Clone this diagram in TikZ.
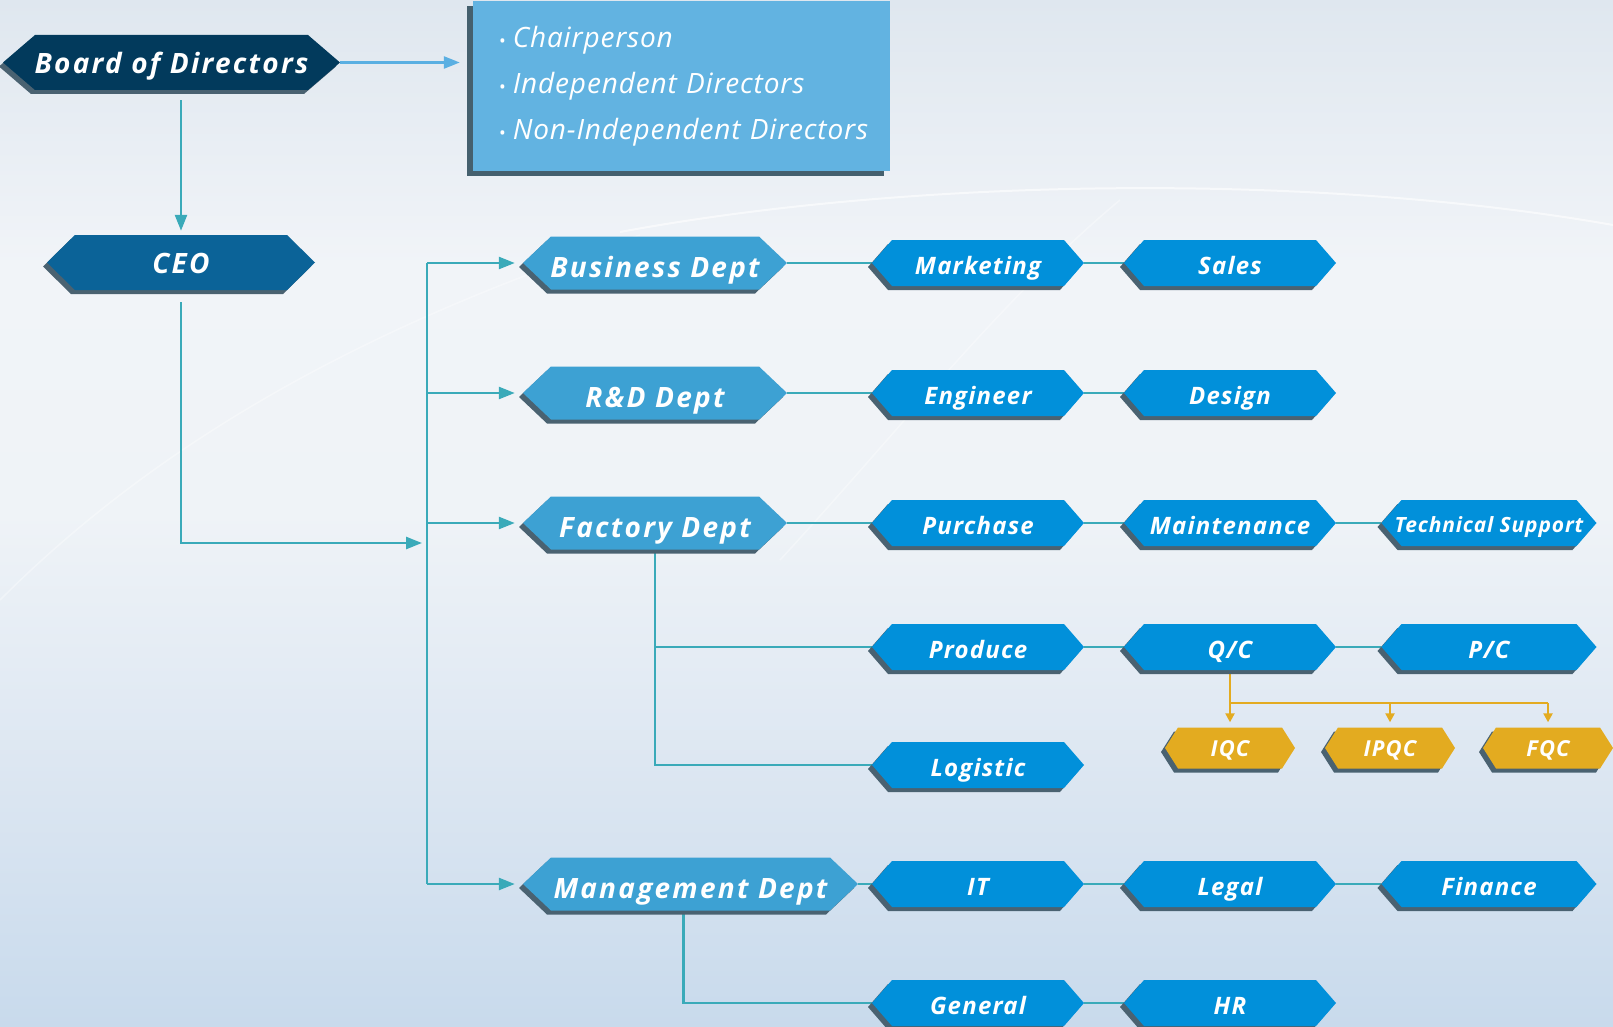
\documentclass[tikz,border=0pt]{standalone}
\usepackage{fontspec}
\setmainfont{Open Sans}
\usetikzlibrary{arrows.meta,shadows,calc}
\definecolor{bodc}{HTML}{023A5C}
\definecolor{ceoc}{HTML}{0B6398}
\definecolor{deptc}{HTML}{3DA1D3}
\definecolor{lthreec}{HTML}{0190DA}
\definecolor{goldc}{HTML}{E3AB20}
\definecolor{hexshadowc}{HTML}{4A6271}
\definecolor{boxc}{HTML}{62B3E1}
\definecolor{boxshadowc}{HTML}{45606E}
\definecolor{tealc}{HTML}{3AAAB9}
\definecolor{arrowbluec}{HTML}{5AAFE2}
\definecolor{bga}{HTML}{C8DAEC}
\definecolor{bgb}{HTML}{DAE5F1}
\definecolor{bgc}{HTML}{EFF3F7}
\definecolor{bgd}{HTML}{F1F4F8}
\definecolor{bge}{HTML}{DFE7EF}
\pgfdeclareverticalshading{bgshade}{100bp}{color(0bp)=(bga); color(25bp)=(bga); color(36bp)=(bgb); color(50bp)=(bgc); color(62bp)=(bgd); color(75bp)=(bge); color(100bp)=(bge)}
\pgfdeclarelayer{bg}
\pgfdeclarelayer{lines}
\pgfsetlayers{bg,lines,main}
\tikzset{
  hexshadow/.style={fill=hexshadowc},
  bodfill/.style={fill=bodc},
  ceofill/.style={fill=ceoc},
  deptfill/.style={fill=deptc},
  lthreefill/.style={fill=lthreec},
  goldfill/.style={fill=goldc},
  hexlabel/.style={rectangle, inner sep=0pt, text=white, text depth=0pt},
  bigfont/.style={font=\fontsize{28}{30}\selectfont\bfseries\itshape\addfontfeatures{LetterSpace=8}},
  bodtext/.style={bigfont, text height=23pt},
  ceotext/.style={bigfont, text height=21pt},
  bigtext/.style={bigfont, text height=29pt},
  midtext/.style={font=\fontsize{24}{26}\selectfont\bfseries\itshape\addfontfeatures{LetterSpace=5}, text height=23pt},
  smalltext/.style={font=\fontsize{21}{23}\selectfont\bfseries\itshape\addfontfeatures{LetterSpace=4}, text height=18pt},
  goldtext/.style={font=\fontsize{22}{24}\selectfont\bfseries\itshape\addfontfeatures{LetterSpace=5}, text height=16pt},
  tealline/.style={draw=tealc, line width=2.5pt},
  tealarrow/.style={tealline, -{Triangle[length=16pt,width=12pt]}},
  bluearrow/.style={draw=arrowbluec, line width=2.5pt, -{Triangle[length=16pt,width=12pt]}},
  goldline/.style={draw=goldc, line width=2.2pt},
  goldarrow/.style={goldline, -{Triangle[length=9pt,width=9pt]}},
  infobox/.style={rectangle, fill=boxc, text=white, inner ysep=0pt, inner xsep=13.5pt,
    text width=390pt, minimum height=170pt, align=left,
    font=\fontsize{28}{46}\selectfont\itshape\addfontfeatures{LetterSpace=3},
    general shadow={fill=boxshadowc, shadow xshift=-6pt, shadow yshift=-5pt}},
}
% name, x, y, width, height, bevel, fill style, text style, text
\newcommand\hexbox[9]{%
  \fill[hexshadow] ({#2-#4/2-4},{#3+4}) -- ({#2-#4/2+#6-4},{#3-#5/2+4}) -- ({#2+#4/2-#6-4},{#3-#5/2+4}) -- ({#2+#4/2-4},{#3+4}) -- ({#2+#4/2-#6-4},{#3+#5/2+4}) -- ({#2-#4/2+#6-4},{#3+#5/2+4}) -- cycle;
  \fill[#7] ({#2-#4/2},#3) -- ({#2-#4/2+#6},{#3-#5/2}) -- ({#2+#4/2-#6},{#3-#5/2}) -- ({#2+#4/2},#3) -- ({#2+#4/2-#6},{#3+#5/2}) -- ({#2-#4/2+#6},{#3+#5/2}) -- cycle;
  \node[hexlabel,#8,minimum width=#4pt,minimum height=#5pt] (#1) at (#2,#3) {#9};
}
\newcommand\bul[1]{\mbox{\hspace*{12.5pt}{\fontsize{18}{18}\selectfont\upshape•}\hspace{7pt}#1}}
\begin{document}
\begin{tikzpicture}[x=1pt,y=-1pt]
\useasboundingbox (0,0) rectangle (1613,1027);
\begin{pgfonlayer}{bg}
  \shade[shading=bgshade] (0,0) rectangle (1613,1027);
  \draw[white, opacity=0.6, line width=2pt] (620,232) .. controls (900,180) and (1300,170) .. (1613,225);
  \draw[white, opacity=0.35, line width=1.5pt] (0,600) .. controls (150,450) and (350,330) .. (640,235);
  \draw[white, opacity=0.35, line width=1.5pt] (780,560) .. controls (900,430) and (1000,300) .. (1120,200);
\end{pgfonlayer}

% top
\hexbox{bod}{171.5}{62.5}{337}{55}{32}{bodfill}{bodtext}{Board of Directors}
\node[infobox] (dirs) at (681.5,86) {\bul{Chairperson}\\ \bul{Independent Directors}\\ \bul{Non-Independent Directors}};
\hexbox{ceo}{181}{262.5}{268}{55}{28}{ceofill}{ceotext}{CEO}

% departments
\hexbox{bus}{655}{263}{264}{53}{28}{deptfill}{bigtext}{Business Dept}
\hexbox{rd}{655}{393}{264}{53}{28}{deptfill}{bigtext}{R\&D Dept}
\hexbox{fac}{655}{523}{264}{53}{28}{deptfill}{bigtext}{Factory Dept}
\hexbox{man}{690.5}{884}{335}{53}{28}{deptfill}{bigtext}{Management Dept}

% level three
\hexbox{mkt}{978}{263}{212}{46}{20}{lthreefill}{midtext}{Marketing}
\hexbox{sal}{1230}{263}{212}{46}{20}{lthreefill}{midtext}{Sales}
\hexbox{eng}{978}{393}{212}{46}{20}{lthreefill}{midtext}{Engineer}
\hexbox{des}{1230}{393}{212}{46}{20}{lthreefill}{midtext}{Design}
\hexbox{pur}{978}{523}{212}{46}{20}{lthreefill}{midtext}{Purchase}
\hexbox{mnt}{1230}{523}{212}{46}{20}{lthreefill}{midtext}{Maintenance}
\hexbox{ts}{1489}{523}{215}{46}{20}{lthreefill}{smalltext}{Technical Support}
\hexbox{prod}{978}{647}{212}{46}{20}{lthreefill}{midtext}{Produce}
\hexbox{qc}{1230}{647}{212}{46}{20}{lthreefill}{midtext}{Q/C}
\hexbox{pc}{1489}{647}{215}{46}{20}{lthreefill}{midtext}{P/C}
\hexbox{log}{978}{765}{212}{46}{20}{lthreefill}{midtext}{Logistic}
\hexbox{it}{978}{884}{212}{46}{20}{lthreefill}{midtext}{IT}
\hexbox{leg}{1230}{884}{212}{46}{20}{lthreefill}{midtext}{Legal}
\hexbox{fin}{1489}{884}{215}{46}{20}{lthreefill}{midtext}{Finance}
\hexbox{gen}{978}{1003}{212}{46}{20}{lthreefill}{midtext}{General}
\hexbox{hr}{1230}{1003}{212}{46}{20}{lthreefill}{midtext}{HR}

% quality control
\hexbox{iqc}{1230}{748}{130}{41}{13}{goldfill}{goldtext}{IQC}
\hexbox{ipqc}{1390}{748}{130}{41}{13}{goldfill}{goldtext}{IPQC}
\hexbox{fqc}{1548}{748}{130}{41}{13}{goldfill}{goldtext}{FQC}

\coordinate (trunktop) at (427,263);
\coordinate (trunkbot) at (427,884);
\coordinate (ceoin) at (422,543);

\begin{pgfonlayer}{lines}
  \draw[bluearrow, shorten >=13pt] (bod.east) -- (dirs.west |- bod.east);
  \draw[tealarrow, shorten <=10pt, shorten >=4pt] (ceo.north |- bod.south) -- (ceo.north);
  \draw[tealarrow, shorten <=12pt] (ceo.south) |- (ceoin);
  \draw[tealline] (trunktop) -- (trunkbot);
  \foreach \d in {bus,rd,fac,man}
    \draw[tealarrow, shorten >=8pt] (trunktop |- \d.west) -- (\d.west);
  \draw[tealline] (bus.east) -- (mkt.west) (mkt.east) -- (sal.west);
  \draw[tealline] (rd.east) -- (eng.west) (eng.east) -- (des.west);
  \draw[tealline] (fac.east) -- (pur.west) (pur.east) -- (mnt.west) (mnt.east) -- (ts.west);
  \draw[tealline] (fac.south) |- (log.west);
  \draw[tealline] (fac.south |- prod.west) -- (prod.west);
  \draw[tealline] (prod.east) -- (qc.west) (qc.east) -- (pc.west);
  \draw[tealline] (man.east) -- (it.west) (it.east) -- (leg.west) (leg.east) -- (fin.west);
  \draw[tealline] ([xshift=-7pt]man.south) |- (gen.west);
  \draw[tealline] (gen.east) -- (hr.west);
  \draw[goldline] (qc.south) -- ++(0,33) coordinate (gj) -- (gj -| fqc.north);
  \draw[goldarrow, shorten >=5pt] (gj -| iqc.north) -- (iqc.north);
  \draw[goldarrow, shorten >=5pt] (gj -| ipqc.north) -- (ipqc.north);
  \draw[goldarrow, shorten >=5pt] (gj -| fqc.north) -- (fqc.north);
\end{pgfonlayer}
\end{tikzpicture}
\end{document}
